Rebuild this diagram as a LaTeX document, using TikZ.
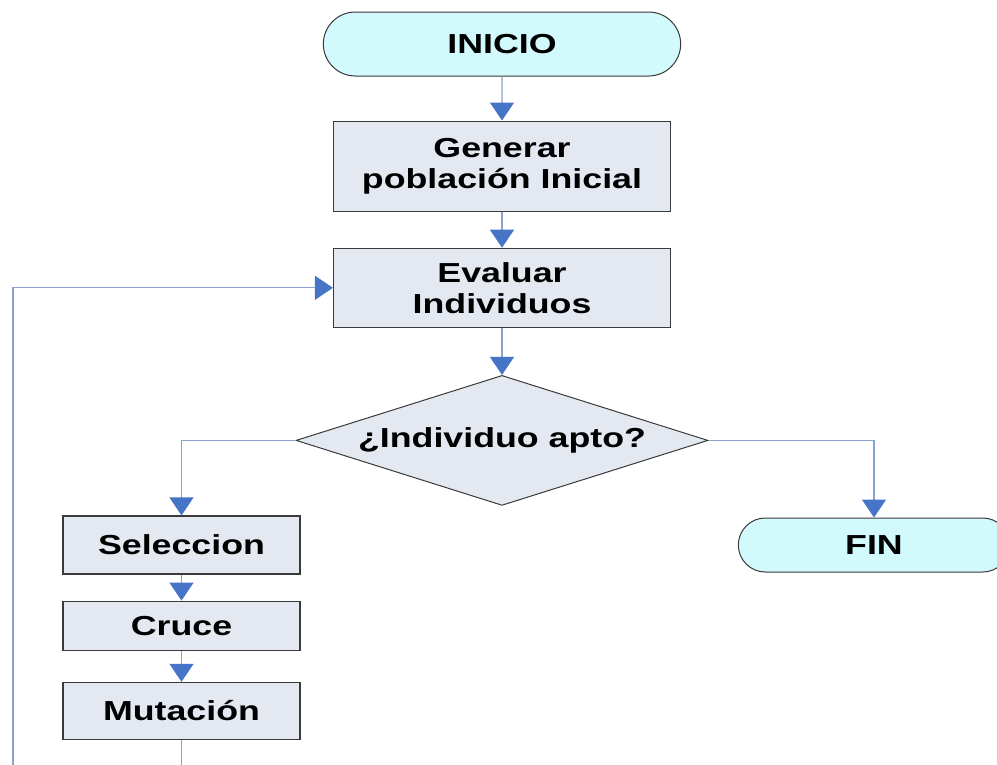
\documentclass[tikz,border=0pt]{standalone}
\usepackage{fontspec}
\newfontfamily\chartfont{Liberation Sans}[FakeStretch=1.3]
\usetikzlibrary{positioning,shapes.geometric,shapes.misc,arrows.meta}
\definecolor{termfill}{HTML}{D2F9FB}
\definecolor{procfill}{HTML}{E4E8F1}
\definecolor{boxline}{HTML}{3A3A3A}
\definecolor{flowline}{HTML}{8AA2CE}
\definecolor{tipblue}{HTML}{4674C6}

\begin{document}
\begin{tikzpicture}[x=1pt, y=1pt,
    every node/.style={font={\chartfont\bfseries\fontsize{27.5pt}{31pt}\selectfont}},
    term/.style={rounded rectangle, draw=boxline, fill=termfill, line width=1pt,
        minimum width=364pt, minimum height=64pt},
    proc/.style={rectangle, draw=boxline, fill=procfill, line width=1.2pt,
        align=center, minimum width=337pt},
    % decision box
    dec/.style={diamond, aspect=3.17, draw=boxline, fill=procfill, line width=1pt,
        inner sep=0pt, minimum width=412pt, minimum height=130pt},
    flow/.style={draw=flowline, line width=1.2pt,
        -{Triangle[width=24pt, length=18pt, color=tipblue]}}
]
    \path[use as bounding box, fill=white] (0,0) rectangle (997,-764);

    \node[term] (inicio) at (502,-44) {INICIO};
    \node[proc, minimum height=90pt, below=44pt of inicio] (generar) {Generar\\población Inicial};
    \node[proc, minimum height=79pt, below=36pt of generar] (evaluar) {Evaluar\\Individuos};
    \node[dec, below=47pt of evaluar] (apto) {¿Individuo apto?};

    \node[proc, minimum width=237pt, minimum height=58pt] (seleccion) at (181.5,-545) {Seleccion};
    \node[proc, minimum width=237pt, minimum height=49pt, below=26pt of seleccion] (cruce) {Cruce};
    \node[proc, minimum width=237pt, minimum height=57pt, below=31pt of cruce] (mutacion) {Mutación};

    \node[term, minimum width=278pt, minimum height=54pt] (fin) at (874,-545) {FIN};

    \draw[flow] (inicio) -- (generar);
    \draw[flow] (generar) -- (evaluar);
    \draw[flow] (evaluar) -- (apto);
    \draw[flow] (apto.west) -| (seleccion.north);
    \draw[flow] (apto.east) -| (fin.north);
    \draw[flow] (seleccion) -- (cruce);
    \draw[flow] (cruce) -- (mutacion);

    % back to evaluation
    \coordinate (loopturn) at (13,-800);
    \draw[flow] (mutacion.south) |- (loopturn) |- (evaluar.west);
\end{tikzpicture}
\end{document}
